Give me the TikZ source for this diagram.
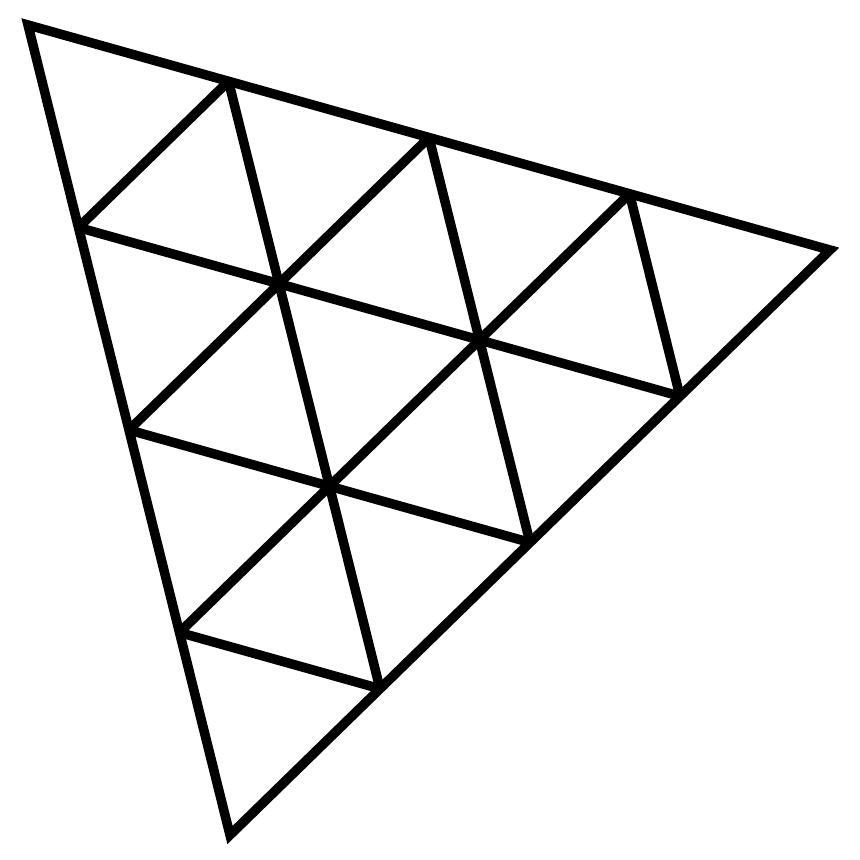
\documentclass[tikz,border=0pt]{standalone}
\usetikzlibrary{calc}

\begin{document}
\begin{tikzpicture}

    \useasboundingbox (0,0) rectangle (8.6,8.6);
    \coordinate (A) at (0.28,8.35);
    \coordinate (B) at (8.30,6.10);
    \coordinate (C) at (2.30,0.25);
    \draw [line width = .095cm, miter limit = 10] (A) -- (B) -- (C) -- cycle;
    \foreach \k in {1,2,3} {
      \draw [line width = .095cm] ($(A)!\k/4!(B)$) -- ($(A)!\k/4!(C)$);
      \draw [line width = .095cm] ($(B)!\k/4!(A)$) -- ($(B)!\k/4!(C)$);
      \draw [line width = .095cm] ($(C)!\k/4!(A)$) -- ($(C)!\k/4!(B)$);
    }
    \end{tikzpicture}
\end{document}
